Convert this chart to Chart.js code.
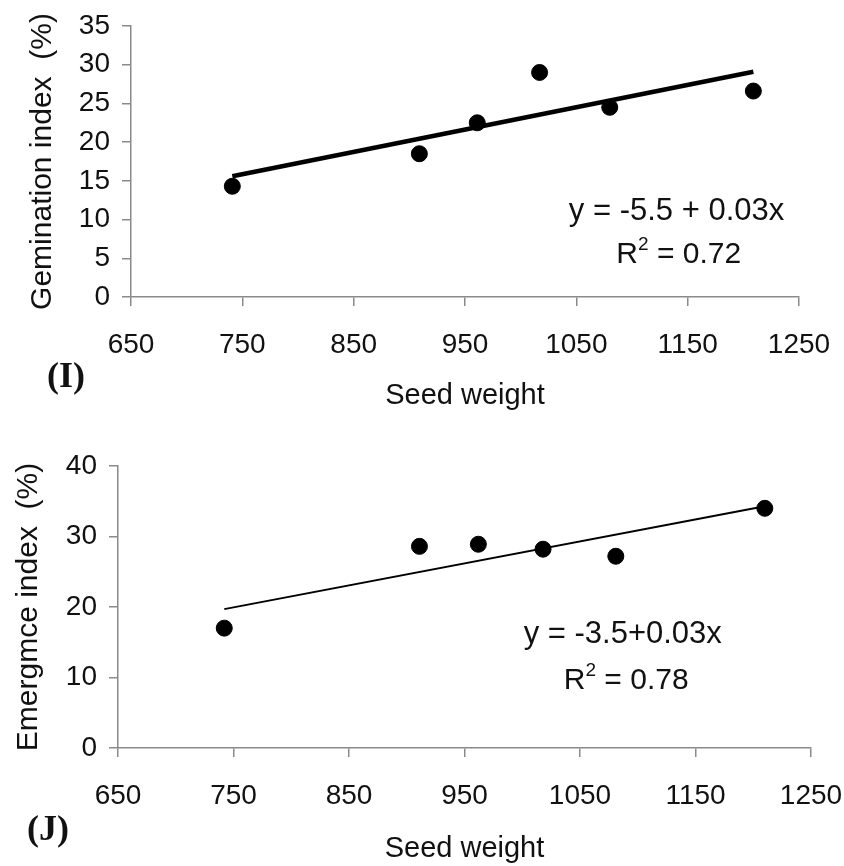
<!DOCTYPE html>
<html>
<head>
<meta charset="utf-8">
<script src="https://cdn.jsdelivr.net/npm/chart.js@4"></script>
<style>
  body { margin: 0; background: #fff; }
  #wrapTop { position: absolute; left: 0; top: 0; width: 844px; height: 420px; }
  #wrapBottom { position: absolute; left: 0; top: 430px; width: 844px; height: 436px; }
</style>
</head>
<body>
<div id="wrapTop"><canvas id="chartTop" width="844" height="420"></canvas></div>
<div id="wrapBottom"><canvas id="chartBottom" width="844" height="436"></canvas></div>
<script>
// panel I - germination
var seedWeightI = [741, 909, 961, 1017, 1080, 1209];
var germinationIndex = [14.3, 18.5, 22.5, 29.0, 24.5, 26.6];
var germTrendX = [741, 1209];
var germTrendY = [15.6, 29.1];

// panel J - emergence
var seedWeightJ = [742, 911, 962, 1018, 1081, 1210];
var emergenceIndex = [17.0, 28.6, 28.9, 28.2, 27.2, 34.0];
var emerTrendX = [742, 1210];
var emerTrendY = [19.7, 34.3];

var axisColor = '#8a8a8a';
var textColor = '#111';
var sansFont = '"Liberation Sans", Arial, sans-serif';

function toPoints(xs, ys) {
    var pts = [];
    for (var i = 0; i < xs.length; i++) {
        pts.push({x: xs[i], y: ys[i]});
    }
    return pts;
}

// equation, R^2 and panel letter
var notesPlugin = {
    id: 'notes',
    afterDraw: function(chart, args, opts) {
        var ctx = chart.ctx;
        var xs = chart.scales.x, ys = chart.scales.y;
        ctx.save();
        ctx.fillStyle = textColor;
        ctx.font = '31px ' + sansFont;
        ctx.textAlign = 'center';
        ctx.textBaseline = 'middle';
        ctx.fillText(opts.equation, xs.getPixelForValue(opts.eqAt[0]), ys.getPixelForValue(opts.eqAt[1]));

        // R^2 with raised 2
        var cx = xs.getPixelForValue(opts.r2At[0]);
        var cy = ys.getPixelForValue(opts.r2At[1]);
        ctx.textAlign = 'left';
        ctx.font = '30px ' + sansFont;
        var wR = ctx.measureText('R').width;
        var rest = ' = ' + opts.r2;
        var wRest = ctx.measureText(rest).width;
        ctx.font = '19px ' + sansFont;
        var w2 = ctx.measureText('2').width;
        var x0 = cx - (wR + w2 + wRest) / 2;
        ctx.font = '30px ' + sansFont;
        ctx.fillText('R', x0, cy);
        ctx.font = '19px ' + sansFont;
        ctx.fillText('2', x0 + wR, cy - 10);
        ctx.font = '30px ' + sansFont;
        ctx.fillText(rest, x0 + wR + w2, cy);

        ctx.font = 'bold 36px "Liberation Serif", "Times New Roman", serif';
        ctx.fillText(opts.panel, opts.panelPos[0], opts.panelPos[1]);
        ctx.restore();
    }
};

function plainTick(value) {
    return String(value);
}

function makeChart(canvasId, cfg) {
    return new Chart(document.getElementById(canvasId), {
        type: 'scatter',
        data: {
            datasets: [
                {
                    data: toPoints(cfg.xs, cfg.ys),
                    backgroundColor: '#000',
                    borderColor: '#000',
                    pointRadius: 8,
                    pointHoverRadius: 8,
                    showLine: false
                },
                {
                    data: toPoints(cfg.trendX, cfg.trendY),
                    borderColor: '#000',
                    borderWidth: cfg.trendWidth,
                    pointRadius: 0,
                    showLine: true,
                    fill: false
                }
            ]
        },
        options: {
            responsive: false,
            animation: false,
            devicePixelRatio: 1,
            layout: { padding: cfg.padding },
            plugins: {
                legend: { display: false },
                tooltip: { enabled: false },
                notes: cfg.notes
            },
            scales: {
                x: {
                    type: 'linear',
                    min: 650, max: 1250,
                    afterFit: function(scale) {
                        scale.height = cfg.xAxisHeight;
                        scale.paddingLeft = 0;
                        scale.paddingRight = 0;
                    },
                    ticks: { stepSize: 100, callback: plainTick, color: textColor, padding: 22, font: { size: 28, family: sansFont } },
                    grid: { drawOnChartArea: false, drawTicks: true, tickLength: 9, color: axisColor, lineWidth: 1.5 },
                    border: { display: true, color: axisColor, width: 1.5 },
                    title: { display: true, text: 'Seed weight', color: textColor, padding: { top: 0, bottom: cfg.xTitlePad }, font: { size: 29, family: sansFont } }
                },
                y: {
                    min: 0, max: cfg.yMax,
                    afterFit: function(scale) {
                        scale.width = cfg.yAxisWidth;
                        scale.paddingTop = 0;
                        scale.paddingBottom = 0;
                    },
                    ticks: { stepSize: cfg.yStep, callback: plainTick, color: textColor, padding: 12, font: { size: 28, family: sansFont } },
                    grid: { drawOnChartArea: false, drawTicks: true, tickLength: 9, color: axisColor, lineWidth: 1.5 },
                    border: { display: true, color: axisColor, width: 1.5 },
                    title: { display: true, text: cfg.yTitle, color: textColor, padding: { top: cfg.yTitlePad, bottom: 0 }, font: { size: 30, family: sansFont } }
                }
            }
        },
        plugins: [notesPlugin]
    });
}

makeChart('chartTop', {
    xs: seedWeightI, ys: germinationIndex,
    trendX: germTrendX, trendY: germTrendY, trendWidth: 4.5,
    yMax: 35, yStep: 5,
    yTitle: 'Gemination index  (%)',
    padding: { left: 0, top: 26, right: 45, bottom: 0 },
    xAxisHeight: 123, yAxisWidth: 131,
    xTitlePad: 7, yTitlePad: 25,
    notes: { equation: 'y = -5.5 + 0.03x', eqAt: [1140, 11.0], r2: '0.72', r2At: [1142, 5.5], panel: '(I)', panelPos: [47, 378] }
});

makeChart('chartBottom', {
    xs: seedWeightJ, ys: emergenceIndex,
    trendX: emerTrendX, trendY: emerTrendY, trendWidth: 2,
    yMax: 40, yStep: 10,
    yTitle: 'Emergmce index  (%)',
    padding: { left: 0, top: 36, right: 33, bottom: 0 },
    xAxisHeight: 118, yAxisWidth: 118,
    xTitlePad: 0, yTitlePad: 11,
    notes: { equation: 'y = -3.5+0.03x', eqAt: [1087, 16.1], r2: '0.78', r2At: [1090, 9.6], panel: '(J)', panelPos: [27, 401] }
});
</script>
</body>
</html>
